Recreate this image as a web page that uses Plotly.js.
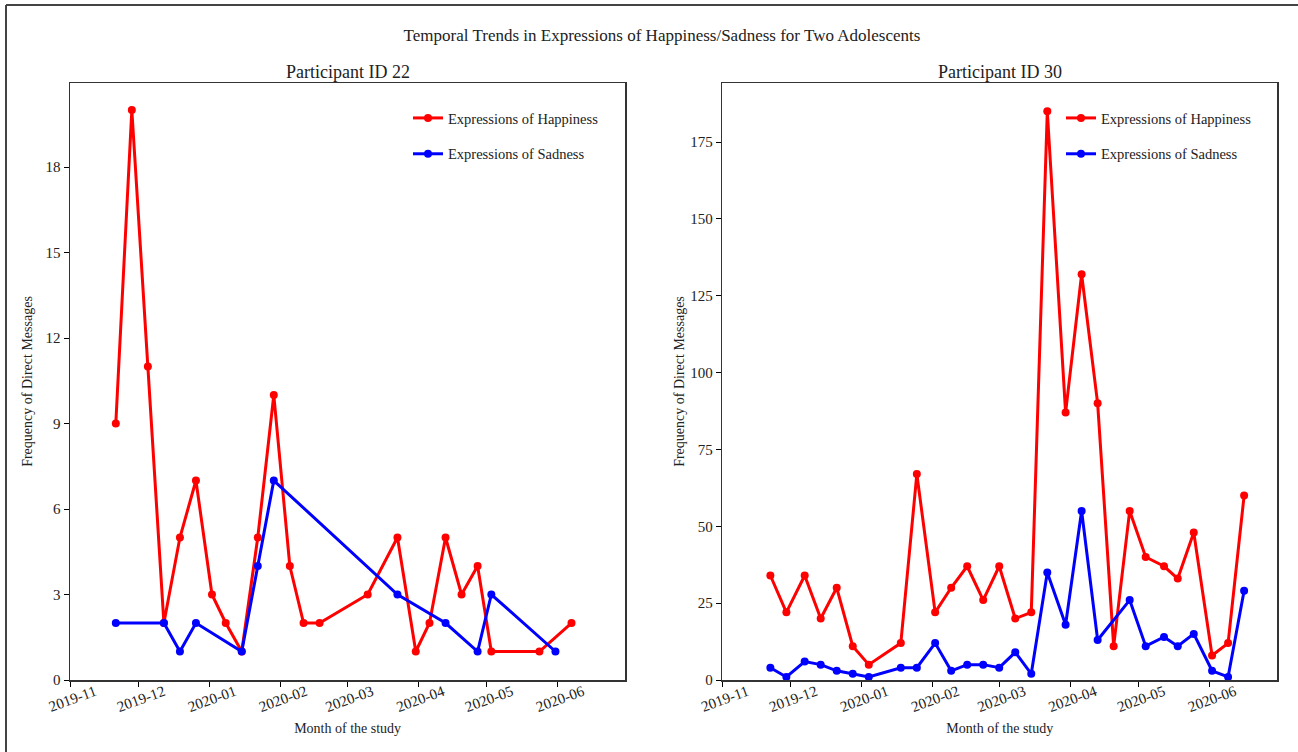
<!DOCTYPE html>
<html>
<head>
<meta charset="utf-8">
<script src="https://cdn.plot.ly/plotly-3.0.1.min.js"></script>
<style>html,body{margin:0;padding:0;background:#fff;}#chart{width:1298px;height:752px;}</style>
</head>
<body>
<div id="chart"></div>
<script>
// Participant ID 22
const p22HappyDates = ["2019-11-21","2019-11-28","2019-12-05","2019-12-12","2019-12-19","2019-12-26","2020-01-02","2020-01-08","2020-01-15","2020-01-22","2020-01-29","2020-02-05","2020-02-11","2020-02-18","2020-03-10","2020-03-23","2020-03-31","2020-04-06","2020-04-13","2020-04-20","2020-04-27","2020-05-03","2020-05-24","2020-06-07"];
const p22HappyValues = [9,20,11,2,5,7,3,2,1,5,10,4,2,2,3,5,1,2,5,3,4,1,1,2];
const p22SadDates = ["2019-11-21","2019-12-12","2019-12-19","2019-12-26","2020-01-15","2020-01-22","2020-01-29","2020-03-23","2020-04-13","2020-04-27","2020-05-03","2020-05-31"];
const p22SadValues = [2,2,1,2,1,4,7,3,2,1,3,1];

// Participant ID 30
const p30HappyDates = ["2019-11-22","2019-11-29","2019-12-07","2019-12-14","2019-12-21","2019-12-28","2020-01-04","2020-01-18","2020-01-25","2020-02-02","2020-02-09","2020-02-16","2020-02-23","2020-03-01","2020-03-08","2020-03-15","2020-03-22","2020-03-30","2020-04-06","2020-04-13","2020-04-20","2020-04-27","2020-05-04","2020-05-12","2020-05-18","2020-05-25","2020-06-02","2020-06-09","2020-06-16"];
const p30HappyValues = [34,22,34,20,30,11,5,12,67,22,30,37,26,37,20,22,185,87,132,90,11,55,40,37,33,48,8,12,60];
const p30SadDates = ["2019-11-22","2019-11-29","2019-12-07","2019-12-14","2019-12-21","2019-12-28","2020-01-04","2020-01-18","2020-01-25","2020-02-02","2020-02-09","2020-02-16","2020-02-23","2020-03-01","2020-03-08","2020-03-15","2020-03-22","2020-03-30","2020-04-06","2020-04-13","2020-04-27","2020-05-04","2020-05-12","2020-05-18","2020-05-25","2020-06-02","2020-06-09","2020-06-16"];
const p30SadValues = [4,1,6,5,3,2,1,4,4,12,3,5,5,4,9,2,35,18,55,13,26,11,14,11,15,3,1,29];

const monthTicks = ["2019-11-01","2019-12-01","2020-01-01","2020-02-01","2020-03-01","2020-04-01","2020-05-01","2020-06-01"];
const monthLabels = ["2019-11","2019-12","2020-01","2020-02","2020-03","2020-04","2020-05","2020-06"];
const p22YTicks = [0,3,6,9,12,15,18];
const p30YTicks = [0,25,50,75,100,125,150,175];

const seriesNames = ["Expressions of Happiness","Expressions of Sadness"];
const RED = "#ff0000", BLUE = "#0000ff";
const FONT = "Liberation Serif, Times New Roman, serif";
const W = 1298, H = 752;

function tr(x, y, name, color, xa, ya, leg, grp) {
  return {
    x: x, y: y, name: name, type: "scatter", mode: "lines+markers",
    line: {color: color, width: 3},
    marker: {color: color, size: 8},
    xaxis: xa, yaxis: ya, legend: leg, legendgroup: grp
  };
}

const data = [
  tr(p22HappyDates, p22HappyValues, seriesNames[0], RED, "x", "y", "legend", "a1"),
  tr(p22SadDates, p22SadValues, seriesNames[1], BLUE, "x", "y", "legend", "a2"),
  tr(p30HappyDates, p30HappyValues, seriesNames[0], RED, "x2", "y2", "legend2", "b1"),
  tr(p30SadDates, p30SadValues, seriesNames[1], BLUE, "x2", "y2", "legend2", "b2")
];

function xax(domain, anchor) {
  return {
    domain: domain, anchor: anchor, type: "date",
    range: ["2019-11-01", "2020-06-30 12:00"],
    tickmode: "array", tickvals: monthTicks, ticktext: monthLabels,
    tickangle: -20, ticklabelshift: 25, ticklabelstandoff: -9,
    ticks: "outside", ticklen: 5, tickwidth: 1, tickcolor: "#000",
    tickfont: {family: FONT, size: 15, color: "#222"},
    showline: true, linecolor: "#333", linewidth: 1.5, mirror: true,
    showgrid: false, zeroline: false, automargin: false,
    title: {text: "Month of the study", font: {family: FONT, size: 14, color: "#222"}}
  };
}
function yax(domain, anchor, range, ticks) {
  return {
    domain: domain, anchor: anchor, range: range,
    tickmode: "array", tickvals: ticks,
    ticks: "outside", ticklen: 5, tickwidth: 1, tickcolor: "#000",
    tickfont: {family: FONT, size: 15, color: "#222"},
    showline: true, linecolor: "#333", linewidth: 1.5, mirror: true,
    showgrid: false, zeroline: false, automargin: false,
    title: {text: "Frequency of Direct Messages", font: {family: FONT, size: 14, color: "#222"}}
  };
}

const yDom = [1 - 680 / H, 1 - 83 / H];
const layout = {
  width: W, height: H,
  margin: {l: 0, r: 0, t: 0, b: 0},
  paper_bgcolor: "#fff", plot_bgcolor: "#fff",
  font: {family: FONT, color: "#222"},
  title: {text: "Temporal Trends in Expressions of Happiness/Sadness for Two Adolescents",
          font: {family: FONT, size: 17, color: "#222"}, x: 0.51, xanchor: "center", y: 1 - 35 / H, yanchor: "middle"},
  xaxis: xax([70 / W, 625.3 / W], "y"),
  yaxis: yax(yDom, "x", [0, 20.95], p22YTicks),
  xaxis2: xax([722.3 / W, 1277.3 / W], "y2"),
  yaxis2: yax(yDom, "x2", [0, 194.2], p30YTicks),
  legend: {x: 408 / W, xanchor: "left", y: 1 - 102 / H, yanchor: "top", bgcolor: "rgba(0,0,0,0)",
           font: {family: FONT, size: 14.5, color: "#222"}, tracegroupgap: 14},
  legend2: {x: 1061 / W, xanchor: "left", y: 1 - 102 / H, yanchor: "top", bgcolor: "rgba(0,0,0,0)",
           font: {family: FONT, size: 14.5, color: "#222"}, tracegroupgap: 14},
  annotations: [
    {text: "Participant ID 22", x: (70 + 625.3) / 2 / W, y: 1 - 72 / H, xref: "paper", yref: "paper",
     xanchor: "center", yanchor: "middle", showarrow: false, font: {family: FONT, size: 18, color: "#222"}},
    {text: "Participant ID 30", x: (722.3 + 1277.3) / 2 / W, y: 1 - 72 / H, xref: "paper", yref: "paper",
     xanchor: "center", yanchor: "middle", showarrow: false, font: {family: FONT, size: 18, color: "#222"}}
  ],
  shapes: [
    {type: "line", xref: "paper", yref: "paper", x0: 6 / W, x1: 1, y0: 1 - 5 / H, y1: 1 - 5 / H, line: {color: "#444", width: 2}},
    {type: "line", xref: "paper", yref: "paper", x0: 6 / W, x1: 6 / W, y0: 0, y1: 1 - 5 / H, line: {color: "#444", width: 2}}
  ]
};

Plotly.newPlot("chart", data, layout, {displayModeBar: false, staticPlot: true});
</script>
</body>
</html>
